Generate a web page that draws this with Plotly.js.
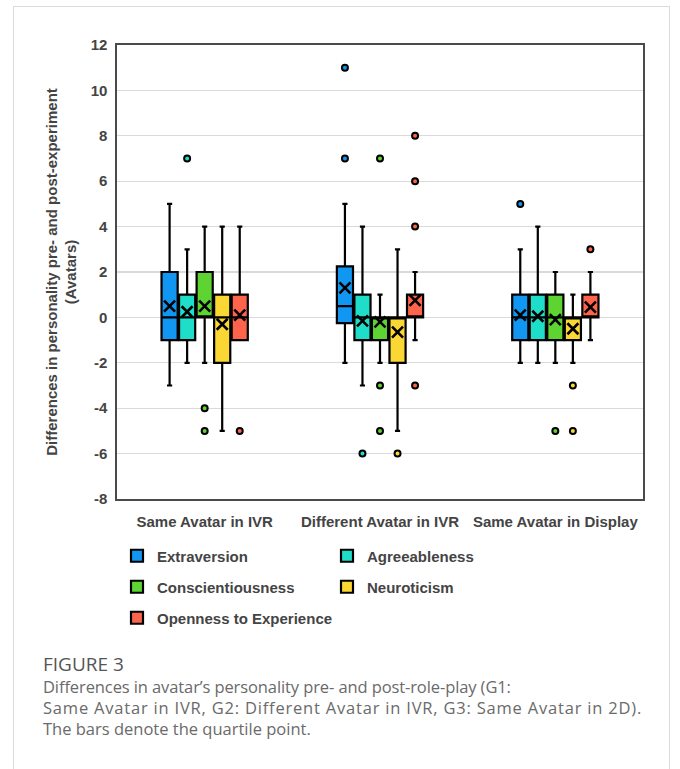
<!DOCTYPE html>
<html><head><meta charset="utf-8">
<script src="https://cdn.plot.ly/plotly-3.0.1.min.js"></script>
<style>
html,body{margin:0;padding:0;background:#fff;}
#card{position:absolute;left:13px;top:6px;width:657px;height:800px;border:1px solid #dcdcdc;box-sizing:border-box;}
#chart{position:absolute;left:0;top:0;width:680px;height:769px;}
#fig{position:absolute;left:43px;top:652px;font:19px/24px "Open Sans",sans-serif;color:#555;white-space:nowrap;}
#cap{position:absolute;left:43px;top:676px;font:16.5px/21px "Open Sans",sans-serif;color:#6a6a6a;white-space:nowrap;}
#cap .l1{letter-spacing:-0.1px;}
#cap .l2{letter-spacing:0.8px;}
#cap .l3{letter-spacing:0px;}
</style></head><body>
<div id="card"></div><div id="chart"></div>
<div id="fig">FIGURE 3</div>
<div id="cap"><div class="l1">Differences in avatar’s personality pre- and post-role-play (G1:</div><div class="l2">Same Avatar in IVR, G2: Different Avatar in IVR, G3: Same Avatar in 2D).</div><div class="l3">The bars denote the quartile point.</div></div>
<script>
// ---- data ----
const groups = ["Same Avatar in IVR", "Different Avatar in IVR", "Same Avatar in Display"];
const traits = ["Extraversion", "Agreeableness", "Conscientiousness", "Neuroticism", "Openness to Experience"];
const colors = ["#1196f2", "#1fdec9", "#5dd432", "#fad733", "#fe634c"];
// per trait (rows) x per group (columns)
const q1Values     = [[-1, -0.25, -1], [-1, -1, -1], [0, -1, -1], [-2, -2, -1], [-1, 0, 0]];
const medianValues = [[0, 0.5, 0], [0, 0, 0], [0, 0, 0], [0, 0, 0], [0, 0, 0]];
const q3Values     = [[2, 2.25, 1], [1, 1, 1], [2, 0, 1], [1, 0, 0], [1, 1, 1]];
const lowerValues  = [[-3, -2, -2], [-2, -3, -2], [-2, -2, -2], [-5, -5, -2], [-1, -1, -1]];
const upperValues  = [[5, 5, 3], [3, 4, 4], [4, 1, 2], [4, 3, 1], [4, 2, 2]];
const meanValues   = [[0.5, 1.3, 0.1], [0.25, -0.15, 0.05], [0.5, -0.2, -0.1], [-0.3, -0.65, -0.5], [0.1, 0.75, 0.45]];
const outlierValues = [
  [[], [11, 7], [5]],
  [[7], [-6], []],
  [[-4, -5], [7, -3, -5], [-5]],
  [[], [-6], [-3, -5]],
  [[-5], [8, 6, 4, -3], [3]]
];
const yTicks = [-8, -6, -4, -2, 0, 2, 4, 6, 8, 10, 12];
const yTickLabels = ["-8", "-6", "-4", "-2", "0", "2", "4", "6", "8", "10", "12"];

// ---- layout constants ----
const W = 680, H = 769;
const M = {l: 117, r: 37, t: 45, b: 270};
const slot = 0.1, boxW = 0.092;
const txt = '#444';
const boldFont = {family: 'Liberation Sans, Arial, sans-serif', size: 15, color: txt, weight: 'bold'};

const data = [];
traits.forEach((t, k) => {
  const off = (k - 2) * slot;
  const xs = groups.map((g, i) => i + off);
  data.push({
    type: 'box', name: t, x: xs,
    q1: q1Values[k], median: medianValues[k], q3: q3Values[k],
    lowerfence: lowerValues[k], upperfence: upperValues[k],
    width: boxW, boxpoints: false, whiskerwidth: 0.32,
    fillcolor: colors[k], line: {color: '#000', width: 2.2},
    legend: k < 2 ? 'legend' : (k < 4 ? 'legend2' : 'legend3'),
    hoverinfo: 'skip'
  });
  const ox = [], oy = [];
  outlierValues[k].forEach((arr, i) => arr.forEach(v => { ox.push(i + off); oy.push(v); }));
  data.push({
    type: 'scatter', mode: 'markers', x: ox, y: oy, showlegend: false,
    marker: {symbol: 'circle', size: 6, color: colors[k], line: {color: '#000', width: 2}},
    hoverinfo: 'skip'
  });
  data.push({
    type: 'scatter', mode: 'markers', x: xs, y: meanValues[k], showlegend: false,
    marker: {symbol: 'x-thin', size: 11, color: '#000', line: {color: '#000', width: 2.6}},
    hoverinfo: 'skip'
  });
});

const legendBase = {
  orientation: 'h', xref: 'container', yref: 'container', xanchor: 'left', yanchor: 'middle',
  font: boldFont, bgcolor: 'rgba(0,0,0,0)', entrywidth: 165, entrywidthmode: 'pixels',
  traceorder: 'normal', itemclick: false
};
const legX = 117 / W;

const layout = {
  width: W, height: H, margin: M,
  paper_bgcolor: 'rgba(0,0,0,0)', plot_bgcolor: '#fff',
  showlegend: true,
  xaxis: {
    range: [-0.5, 2.5], tickvals: [0, 1, 2], ticktext: groups,
    showgrid: false, zeroline: false, showline: true, mirror: true,
    linecolor: '#4a4a4a', linewidth: 1.6, ticks: '', tickfont: boldFont, ticklabelstandoff: 8
  },
  yaxis: {
    range: [-8, 12], tickvals: yTicks, ticktext: yTickLabels, showgrid: true, gridcolor: '#dadada', gridwidth: 1.3,
    zeroline: false, showline: true, mirror: true, linecolor: '#4a4a4a', linewidth: 1.6,
    ticks: '', tickfont: boldFont, ticklabelstandoff: 5,
    title: {text: 'Differences in personality pre- and post-experiment<br>(Avatars)', font: boldFont, standoff: 10}
  },
  legend: Object.assign({}, legendBase, {x: legX, y: 1 - 556 / H}),
  legend2: Object.assign({}, legendBase, {x: legX, y: 1 - 587 / H}),
  legend3: Object.assign({}, legendBase, {x: legX, y: 1 - 618 / H, entrywidth: 300})
};

Plotly.newPlot('chart', data, layout, {displayModeBar: false, staticPlot: true});
</script>
</body></html>
